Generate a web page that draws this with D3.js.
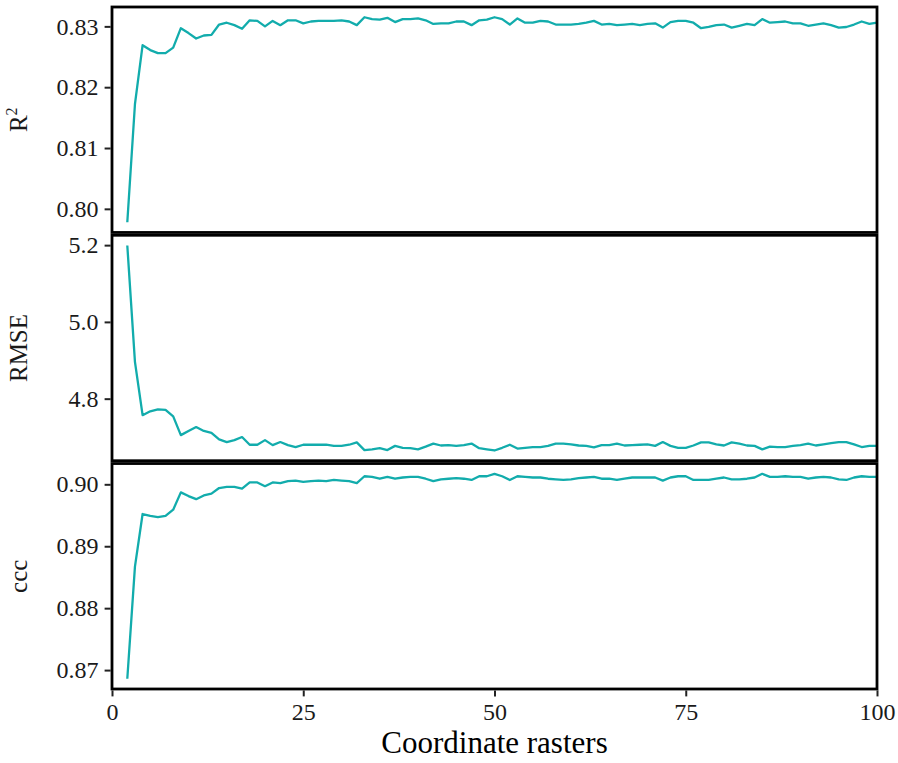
<!DOCTYPE html>
<html>
<head>
<meta charset="utf-8">
<script src="https://cdn.jsdelivr.net/npm/d3@7"></script>
<style>
  html, body { margin: 0; padding: 0; background: #fff; }
  svg { display: block; }
  svg text { font-family: "Times New Roman", "Liberation Serif", Times, serif !important; }
</style>
</head>
<body>
<svg id="chart" width="898" height="763"></svg>
<script>
// x values: number of coordinate rasters, 2..100
const rasters = [2,3,4,5,6,7,8,9,10,11,12,13,14,15,16,17,18,19,20,21,22,23,24,25,26,27,28,29,30,31,32,33,34,35,36,37,38,39,40,41,42,43,44,45,46,47,48,49,50,51,52,53,54,55,56,57,58,59,60,61,62,63,64,65,66,67,68,69,70,71,72,73,74,75,76,77,78,79,80,81,82,83,84,85,86,87,88,89,90,91,92,93,94,95,96,97,98,99,100];

const r2Values = [0.7978,0.8172,0.8269,0.8261,0.8256,0.8256,0.8265,0.8297,0.8289,0.8280,
  0.8285,0.8286,0.8303,0.8306,0.8302,0.8296,0.8310,0.8309,0.8300,0.8309,
  0.8302,0.8310,0.8310,0.8305,0.8308,0.8309,0.8309,0.8309,0.8310,0.8308,
  0.8302,0.8315,0.8312,0.8311,0.8314,0.8307,0.8312,0.8312,0.8313,0.8310,
  0.8304,0.8305,0.8305,0.8308,0.8308,0.8302,0.8310,0.8311,0.8315,0.8312,
  0.8303,0.8313,0.8306,0.8306,0.8309,0.8308,0.8303,0.8303,0.8303,0.8304,
  0.8306,0.8309,0.8303,0.8304,0.8302,0.8303,0.8304,0.8302,0.8304,0.8305,
  0.8298,0.8307,0.8309,0.8309,0.8306,0.8297,0.8299,0.8302,0.8303,0.8298,
  0.8301,0.8304,0.8302,0.8312,0.8306,0.8307,0.8308,0.8305,0.8305,0.8301,
  0.8303,0.8305,0.8302,0.8298,0.8299,0.8303,0.8308,0.8304,0.8306];

const rmseValues = [5.199,4.896,4.757,4.767,4.772,4.771,4.754,4.705,4.716,4.726,
  4.716,4.711,4.694,4.687,4.692,4.700,4.680,4.680,4.692,4.679,
  4.687,4.679,4.674,4.680,4.680,4.680,4.680,4.677,4.677,4.680,
  4.686,4.666,4.668,4.671,4.666,4.677,4.672,4.671,4.668,4.675,
  4.683,4.678,4.679,4.677,4.679,4.683,4.671,4.668,4.665,4.672,
  4.680,4.670,4.672,4.674,4.674,4.677,4.683,4.683,4.681,4.678,
  4.677,4.673,4.679,4.679,4.683,4.678,4.679,4.680,4.681,4.677,
  4.687,4.677,4.672,4.672,4.678,4.686,4.686,4.681,4.678,4.686,
  4.683,4.678,4.677,4.668,4.675,4.674,4.674,4.677,4.679,4.683,
  4.678,4.681,4.684,4.687,4.687,4.681,4.674,4.677,4.677];

const cccValues = [0.8686,0.8867,0.8952,0.8949,0.8947,0.8949,0.8959,0.8987,0.8981,0.8976,
  0.8982,0.8985,0.8994,0.8996,0.8996,0.8993,0.9003,0.9003,0.8997,0.9003,
  0.9002,0.9005,0.9006,0.9004,0.9005,0.9006,0.9005,0.9007,0.9006,0.9005,
  0.9002,0.9013,0.9012,0.9009,0.9012,0.9009,0.9011,0.9012,0.9012,0.9009,
  0.9005,0.9008,0.9009,0.9010,0.9009,0.9007,0.9013,0.9013,0.9017,0.9013,
  0.9007,0.9013,0.9012,0.9011,0.9011,0.9009,0.9008,0.9007,0.9008,0.9010,
  0.9011,0.9012,0.9009,0.9009,0.9007,0.9009,0.9011,0.9011,0.9011,0.9011,
  0.9006,0.9011,0.9013,0.9013,0.9007,0.9007,0.9007,0.9009,0.9011,0.9008,
  0.9008,0.9009,0.9011,0.9017,0.9012,0.9012,0.9013,0.9012,0.9012,0.9009,
  0.9011,0.9012,0.9011,0.9008,0.9007,0.9011,0.9013,0.9012,0.9012];

const xTicks = [0, 25, 50, 75, 100];
const r2Ticks = [0.80, 0.81, 0.82, 0.83];
const rmseTicks = [4.8, 5.0, 5.2];
const cccTicks = [0.87, 0.88, 0.89, 0.90];

const panels = [
  { name: "R2",   values: r2Values,   ticks: r2Ticks,   fmt: d3.format(".2f") },
  { name: "RMSE", values: rmseValues, ticks: rmseTicks, fmt: d3.format(".1f") },
  { name: "ccc",  values: cccValues,  ticks: cccTicks,  fmt: d3.format(".2f") }
];

// layout
const mLeft = 112, mRight = 877, mTop = 7, mBottom = 689, gap = 2.8;
const ph = (mBottom - mTop - 2 * gap) / 3;
const lineColor = "#12acac";
const borderW = 2.8;
const serif = '"Times New Roman", "Liberation Serif", Times, serif';

const svg = d3.select("#chart");
const x = d3.scaleLinear().domain([0, 100]).range([mLeft, mRight]);

panels.forEach((p, i) => {
  const y0 = mTop + i * (ph + gap);
  const y1 = y0 + ph;
  const ext = d3.extent(p.values);
  const pad = (ext[1] - ext[0]) * 0.05;
  const y = d3.scaleLinear().domain([ext[0] - pad, ext[1] + pad]).range([y1, y0]);

  const g = svg.append("g");

  // line
  const data = rasters.map((r, k) => [r, p.values[k]]);
  g.append("path")
    .datum(data)
    .attr("fill", "none")
    .attr("stroke", lineColor)
    .attr("stroke-width", 2.3)
    .attr("stroke-linejoin", "round")
    .attr("d", d3.line().x(d => x(d[0])).y(d => y(d[1])));

  // y axis
  const ay = g.append("g")
    .attr("transform", `translate(${mLeft - borderW / 2},0)`)
    .call(d3.axisLeft(y).tickValues(p.ticks).tickFormat(p.fmt).tickSize(6).tickPadding(6));
  ay.attr("font-family", serif);
  ay.select(".domain").remove();
  ay.selectAll(".tick line").attr("stroke", "#222").attr("stroke-width", 2);
  ay.selectAll(".tick text")
    .attr("fill", "#1a1a1a")
    .attr("font-family", serif)
    .style("font-size", "24px");

  // panel border
  g.append("rect")
    .attr("x", mLeft).attr("y", y0)
    .attr("width", mRight - mLeft).attr("height", ph)
    .attr("fill", "none")
    .attr("stroke", "#000")
    .attr("stroke-width", borderW);

  // y title
  const cy = (y0 + y1) / 2;
  const t = g.append("text")
    .attr("transform", `translate(27,${cy}) rotate(-90)`)
    .attr("text-anchor", "middle")
    .attr("fill", "#1a1a1a")
    .attr("font-family", serif)
    .style("font-size", "25px");
  if (p.name === "R2") {
    t.append("tspan").text("R");
    t.append("tspan").attr("dy", -10).style("font-size", "16px").text("2");
  } else {
    t.text(p.name);
  }

  // x axis on bottom panel
  if (i === panels.length - 1) {
    const ax = svg.append("g")
      .attr("transform", `translate(0,${y1 + borderW / 2})`)
      .call(d3.axisBottom(x).tickValues(xTicks).tickFormat(d3.format("d")).tickSize(6).tickPadding(7));
    ax.attr("font-family", serif);
    ax.select(".domain").remove();
    ax.selectAll(".tick line").attr("stroke", "#222").attr("stroke-width", 2);
    ax.selectAll(".tick text")
      .attr("fill", "#1a1a1a")
      .attr("font-family", serif)
      .style("font-size", "24px");
  }
});

svg.append("text")
  .attr("x", (mLeft + mRight) / 2)
  .attr("y", 753)
  .attr("text-anchor", "middle")
  .attr("fill", "#000")
  .attr("font-family", serif)
  .style("font-size", "31px")
  .text("Coordinate rasters");
</script>
</body>
</html>
